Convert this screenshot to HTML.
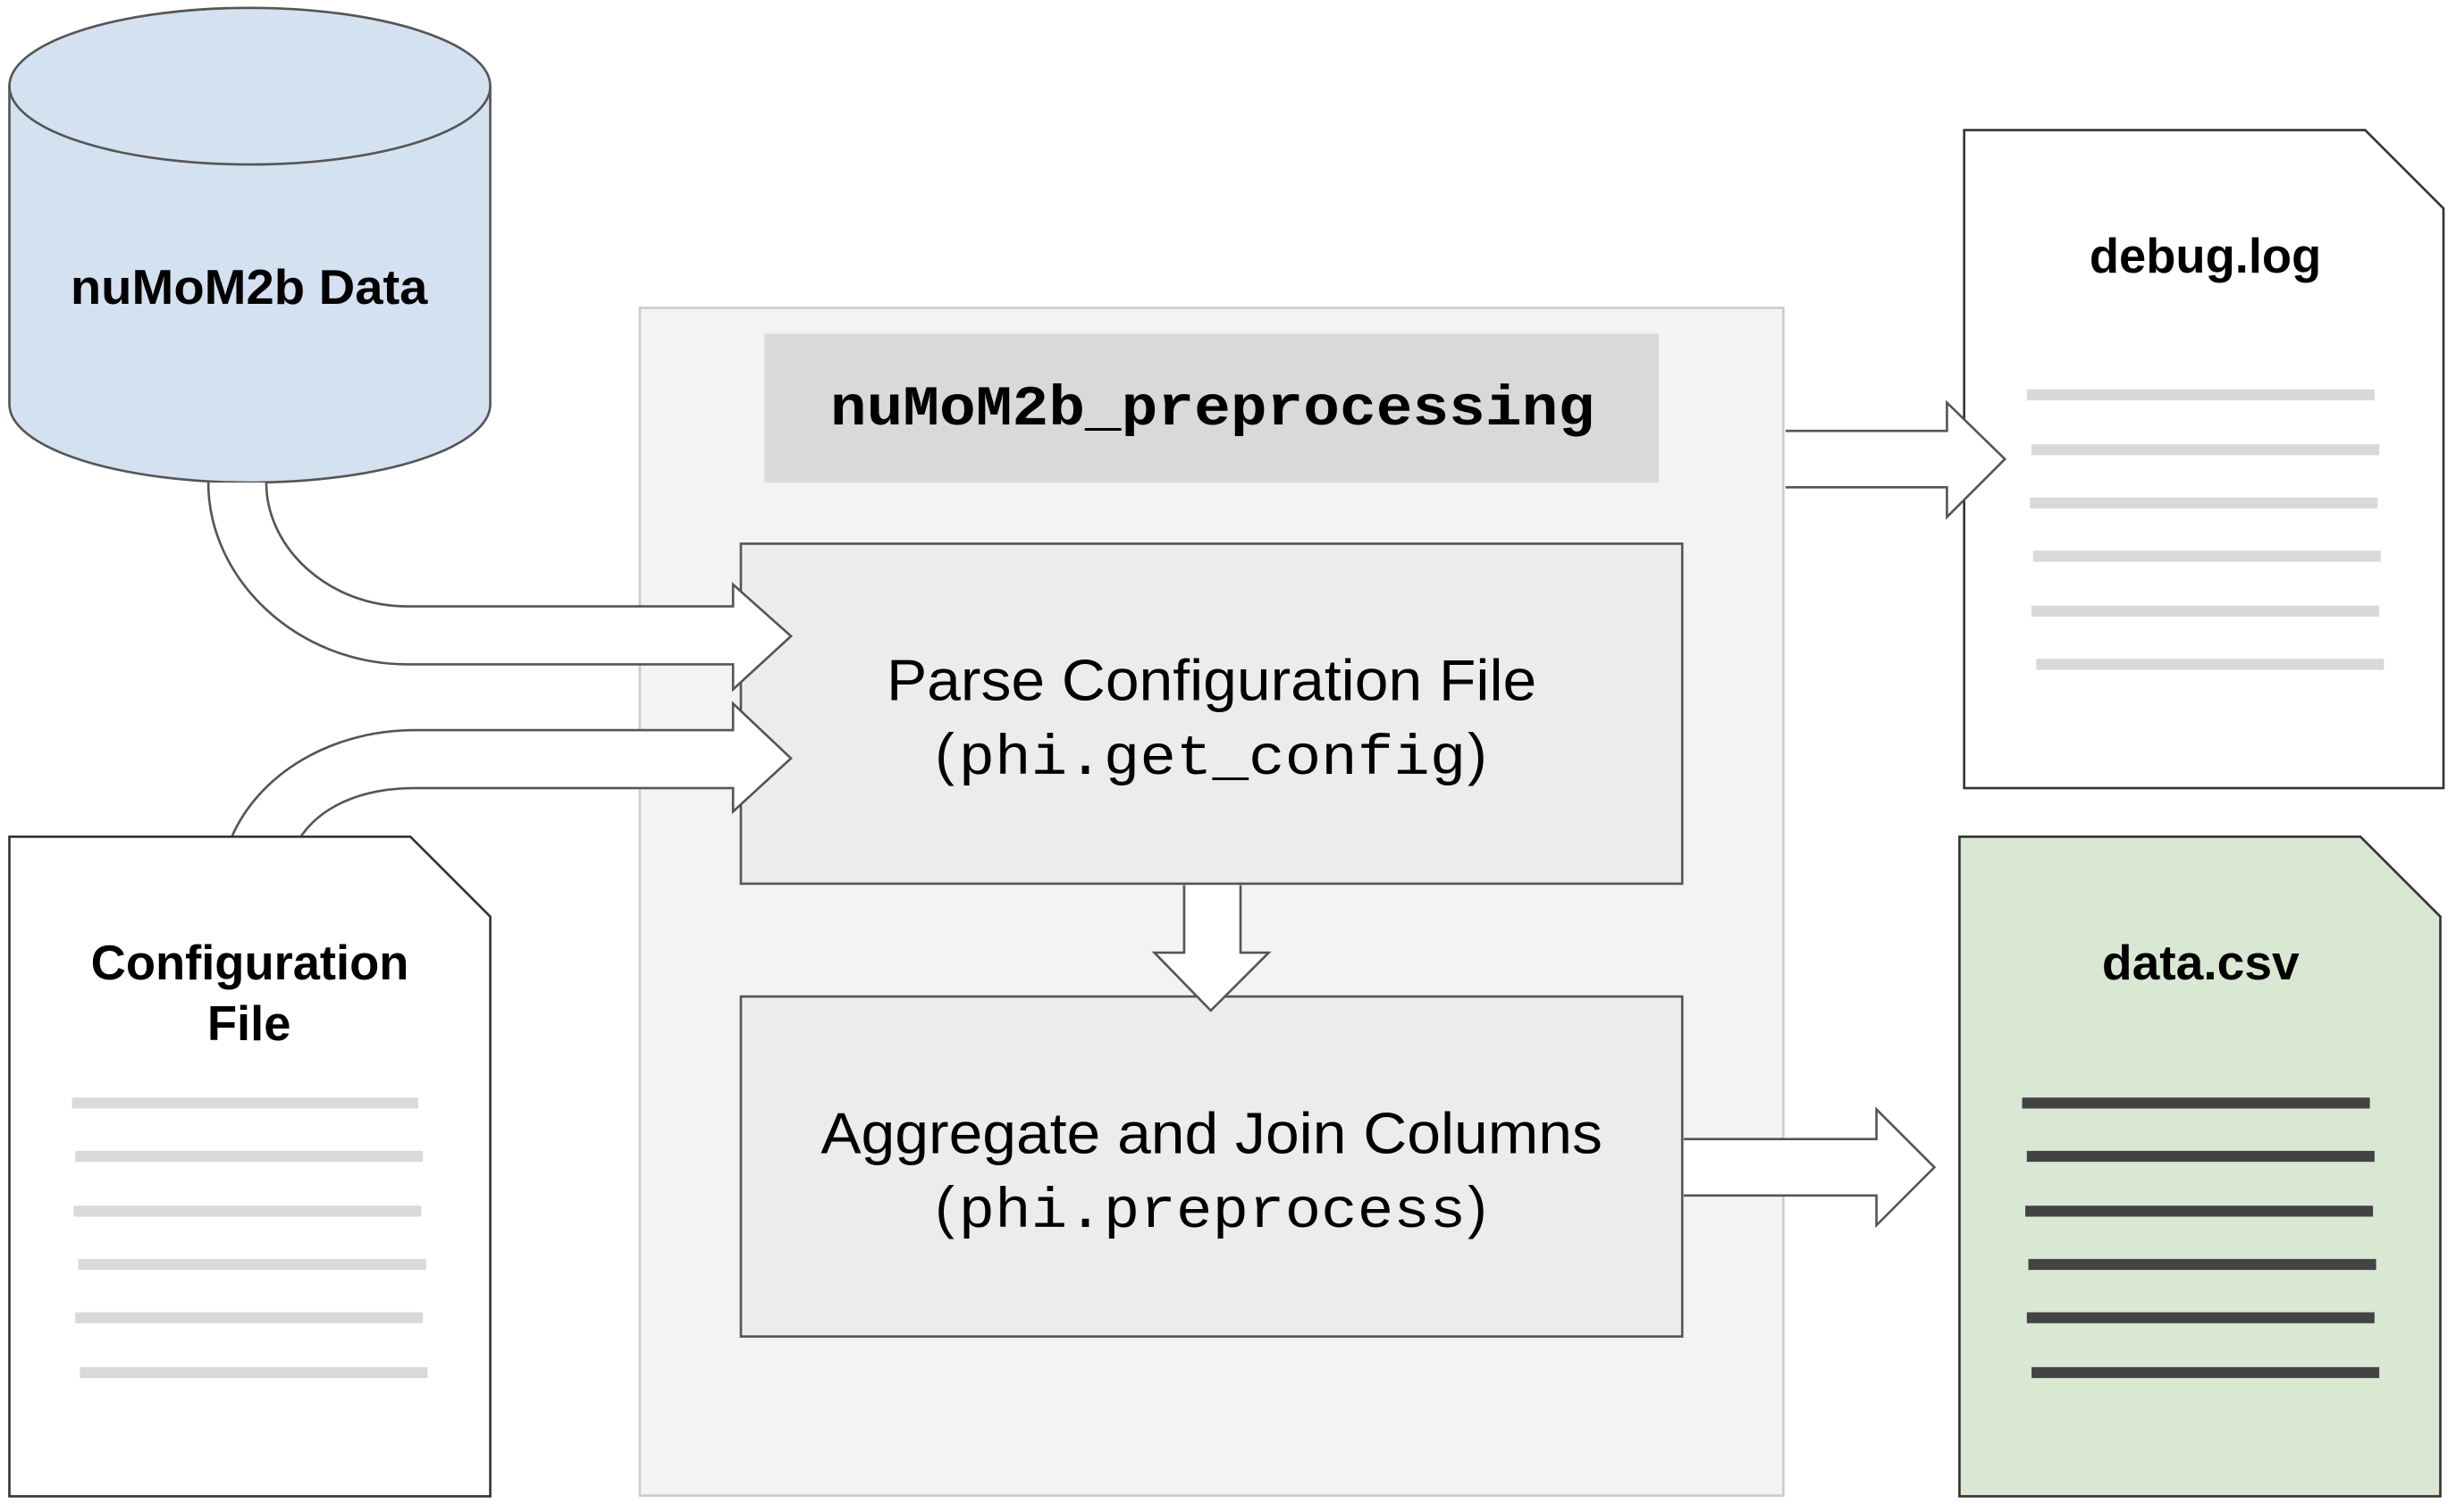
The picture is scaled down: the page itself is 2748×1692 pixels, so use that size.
<!DOCTYPE html>
<html><head><meta charset="utf-8"><style>
html,body{margin:0;padding:0;background:#fff;}
svg{display:block;}
</style></head><body>
<svg width="2748" height="1692" viewBox="0 0 1568 965" preserveAspectRatio="none" xmlns="http://www.w3.org/2000/svg">
<rect width="1568" height="965" fill="#fff"/>
<!-- container -->
<rect x="408.5" y="196.5" width="730" height="758" fill="#f3f3f3" stroke="#cccccc" stroke-width="1.5"/>
<rect x="488" y="213" width="571" height="95" fill="#d9d9d9"/>
<text x="530" y="271" textLength="488" lengthAdjust="spacingAndGlyphs" font-family="Liberation Mono, monospace" font-weight="bold" font-size="36" fill="#000">nuMoM2b_preprocessing</text>
<!-- cylinder -->
<path d="M6,55 L6,258 A153.5,50 0 0 0 313,258 L313,55" fill="#d4e1f0" stroke="#555" stroke-width="1.5"/>
<ellipse cx="159.5" cy="55" rx="153.5" ry="50" fill="#d4e1f0" stroke="#555" stroke-width="1.5"/>
<text x="45" y="194" textLength="228" lengthAdjust="spacingAndGlyphs" font-family="Liberation Sans, sans-serif" font-weight="bold" font-size="31" fill="#000">nuMoM2b Data</text>
<!-- box1 -->
<rect x="473" y="347" width="601" height="217" fill="#ececec" stroke="#555" stroke-width="1.5"/>
<text x="566" y="447" textLength="415" lengthAdjust="spacingAndGlyphs" font-family="Liberation Sans, sans-serif" font-size="37" fill="#000">Parse Configuration File</text>
<text x="597" y="494" font-family="Liberation Sans, sans-serif" font-size="37" fill="#000">(</text>
<text x="612" y="494" textLength="324" lengthAdjust="spacingAndGlyphs" font-family="Liberation Mono, monospace" font-size="36" fill="#000">phi.get_config</text>
<text x="937" y="494" font-family="Liberation Sans, sans-serif" font-size="37" fill="#000">)</text>
<!-- box2 -->
<rect x="473" y="636" width="601" height="217" fill="#ececec" stroke="#555" stroke-width="1.5"/>
<text x="524" y="736" textLength="499" lengthAdjust="spacingAndGlyphs" font-family="Liberation Sans, sans-serif" font-size="37" fill="#000">Aggregate and Join Columns</text>
<text x="597" y="783" font-family="Liberation Sans, sans-serif" font-size="37" fill="#000">(</text>
<text x="612" y="783" textLength="324" lengthAdjust="spacingAndGlyphs" font-family="Liberation Mono, monospace" font-size="36" fill="#000">phi.preprocess</text>
<text x="937" y="783" font-family="Liberation Sans, sans-serif" font-size="37" fill="#000">)</text>
<!-- down arrow -->
<path d="M756,565 L756,608 L737,608 L773,645 L810,608 L792,608 L792,565" fill="#fff" stroke="#555" stroke-width="1.5"/>
<!-- debug.log -->
<path d="M1254,83 L1510,83 L1560,133 L1560,503 L1254,503 Z" fill="#fff" stroke="#333" stroke-width="1.5"/>
<text x="1334" y="174" textLength="148" lengthAdjust="spacingAndGlyphs" font-family="Liberation Sans, sans-serif" font-weight="bold" font-size="31" fill="#000">debug.log</text>
<g stroke="#d9d9d9" stroke-width="7">
<line x1="1294" y1="252" x2="1516" y2="252"/><line x1="1297" y1="287" x2="1519" y2="287"/>
<line x1="1296" y1="321" x2="1518" y2="321"/><line x1="1298" y1="355" x2="1520" y2="355"/>
<line x1="1297" y1="390" x2="1519" y2="390"/><line x1="1300" y1="424" x2="1522" y2="424"/>
</g>
<!-- arrow to debug -->
<path d="M1140,275 L1243,275 L1243,257 L1280,293 L1243,330 L1243,311 L1140,311" fill="#fff" stroke="#555" stroke-width="1.5"/>
<!-- arrow to csv -->
<path d="M1075,727 L1198,727 L1198,708 L1235,745 L1198,782 L1198,763 L1075,763" fill="#fff" stroke="#555" stroke-width="1.5"/>
<!-- curved arrows -->
<path d="M133,308 C133,370 190,424 260,424 L468,424 L468,440 L505,406 L468,373 L468,387 L260,387 C210,387 170,350 170,308" fill="#fff" stroke="#555" stroke-width="1.5"/>
<path d="M148,534 C165,495 210,466 265,466 L468,466 L468,449 L505,484 L468,518 L468,503 L265,503 C230,503 205,515 192,534" fill="#fff" stroke="#555" stroke-width="1.5"/>
<!-- data.csv -->
<path d="M1251,534 L1507,534 L1558,585 L1558,955 L1251,955 Z" fill="#d9e8d3" stroke="#333" stroke-width="1.5"/>
<text x="1342" y="625" textLength="126" lengthAdjust="spacingAndGlyphs" font-family="Liberation Sans, sans-serif" font-weight="bold" font-size="31" fill="#000">data.csv</text>
<g stroke="#434343" stroke-width="7">
<line x1="1291" y1="704" x2="1513" y2="704"/><line x1="1294" y1="738" x2="1516" y2="738"/>
<line x1="1293" y1="773" x2="1515" y2="773"/><line x1="1295" y1="807" x2="1517" y2="807"/>
<line x1="1294" y1="841" x2="1516" y2="841"/><line x1="1297" y1="876" x2="1519" y2="876"/>
</g>
<!-- config file -->
<path d="M6,534 L262,534 L313,585 L313,955 L6,955 Z" fill="#fff" stroke="#333" stroke-width="1.5"/>
<text x="58" y="625" textLength="203" lengthAdjust="spacingAndGlyphs" font-family="Liberation Sans, sans-serif" font-weight="bold" font-size="31" fill="#000">Configuration</text>
<text x="159" y="664" text-anchor="middle" font-family="Liberation Sans, sans-serif" font-weight="bold" font-size="31" fill="#000">File</text>
<g stroke="#d9d9d9" stroke-width="7">
<line x1="46" y1="704" x2="267" y2="704"/><line x1="48" y1="738" x2="270" y2="738"/>
<line x1="47" y1="773" x2="269" y2="773"/><line x1="50" y1="807" x2="272" y2="807"/>
<line x1="48" y1="841" x2="270" y2="841"/><line x1="51" y1="876" x2="273" y2="876"/>
</g>
</svg>
</body></html>
